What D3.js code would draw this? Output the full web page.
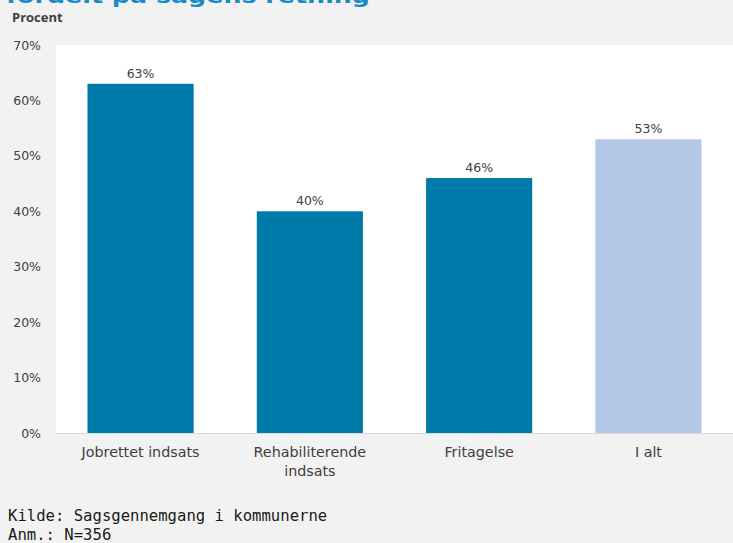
<!DOCTYPE html>
<html>
<head>
<meta charset="utf-8">
<script src="https://cdn.jsdelivr.net/npm/d3@7"></script>
<style>
  html, body { margin: 0; padding: 0; background: #f2f2f2; }
  svg { display: block; }
  text { font-family: "DejaVu Sans", Verdana, sans-serif; }
</style>
</head>
<body>
<svg id="chart" width="733" height="543"></svg>
<script>
// Andel sager fordelt på sagens retning
const categories = [["Jobrettet indsats"], ["Rehabiliterende", "indsats"], ["Fritagelse"], ["I alt"]];
const values = [63, 40, 46, 53];
const barColors = ["#007aa9", "#007aa9", "#007aa9", "#b4c7e7"];
const yTicks = [0, 10, 20, 30, 40, 50, 60, 70];

const W = 733, H = 543;
const margin = { left: 56, right: 0, top: 45, bottom: 110 };
const plotBottom = 433;

const svg = d3.select("#chart");

svg.append("rect").attr("width", W).attr("height", H).attr("fill", "#f2f2f2");

// Plot area
svg.append("rect")
  .attr("x", margin.left).attr("y", margin.top)
  .attr("width", W - margin.left - margin.right)
  .attr("height", plotBottom - margin.top)
  .attr("fill", "#ffffff");

const x = d3.scaleBand()
  .domain(d3.range(categories.length))
  .range([margin.left, W - margin.right])
  .paddingInner(0.373)
  .paddingOuter(0.186);

const y = d3.scaleLinear().domain([0, 70]).range([plotBottom, margin.top]);

// Title (continuation line)
svg.append("text")
  .attr("x", 6).attr("y", 3)
  .attr("fill", "#1a8cc4")
  .attr("font-weight", "bold")
  .attr("font-size", 20)
  .attr("textLength", 364)
  .attr("lengthAdjust", "spacingAndGlyphs")
  .text("fordelt på sagens retning");

svg.append("text")
  .attr("x", 12).attr("y", 22)
  .attr("fill", "#404040")
  .attr("font-weight", "bold")
  .attr("font-size", 13)
  .style("font-family", "'Open Sans', sans-serif")
  .text("Procent");

// Y axis labels
const yAxis = d3.axisLeft(y)
  .tickValues(yTicks)
  .tickFormat(d => d + "%")
  .tickSize(0)
  .tickPadding(15);

const gy = svg.append("g")
  .attr("transform", `translate(${margin.left},0)`)
  .call(yAxis);
gy.select(".domain").remove();
gy.selectAll("text")
  .attr("fill", "#404040")
  .attr("font-size", 12.5)
  .style("font-family", "'DejaVu Sans', sans-serif");

// Bars
svg.append("g").selectAll("rect")
  .data(values)
  .join("rect")
  .attr("x", (d, i) => x(i))
  .attr("y", d => y(d))
  .attr("width", x.bandwidth())
  .attr("height", d => y(0) - y(d))
  .attr("fill", (d, i) => barColors[i]);

// Baseline
svg.append("line")
  .attr("x1", margin.left).attr("x2", W)
  .attr("y1", plotBottom + 0.5).attr("y2", plotBottom + 0.5)
  .attr("stroke", "#d9d9d9").attr("stroke-width", 1);

// Value labels
svg.append("g").selectAll("text")
  .data(values)
  .join("text")
  .attr("x", (d, i) => x(i) + x.bandwidth() / 2)
  .attr("y", d => y(d) - 6)
  .attr("text-anchor", "middle")
  .attr("fill", "#404040")
  .attr("font-size", 12.5)
  .text(d => d + "%");

// Category labels
const catG = svg.append("g").selectAll("text")
  .data(categories)
  .join("text")
  .attr("x", (d, i) => x(i) + x.bandwidth() / 2)
  .attr("y", 457)
  .attr("text-anchor", "middle")
  .attr("fill", "#404040")
  .attr("font-size", 14.3);
catG.selectAll("tspan")
  .data(d => d)
  .join("tspan")
  .attr("x", function () { return d3.select(this.parentNode).attr("x"); })
  .attr("dy", (d, i) => i === 0 ? 0 : 19)
  .text(d => d);

// Notes
const noteFont = "'DejaVu Sans Mono', 'Liberation Mono', monospace";
svg.append("text")
  .attr("x", 8).attr("y", 521)
  .attr("fill", "#1a1a1a")
  .attr("font-size", 15.6)
  .style("font-family", noteFont)
  .text("Kilde: Sagsgennemgang i kommunerne");
svg.append("text")
  .attr("x", 8).attr("y", 540)
  .attr("fill", "#1a1a1a")
  .attr("font-size", 15.6)
  .style("font-family", noteFont)
  .text("Anm.: N=356");
</script>
</body>
</html>
